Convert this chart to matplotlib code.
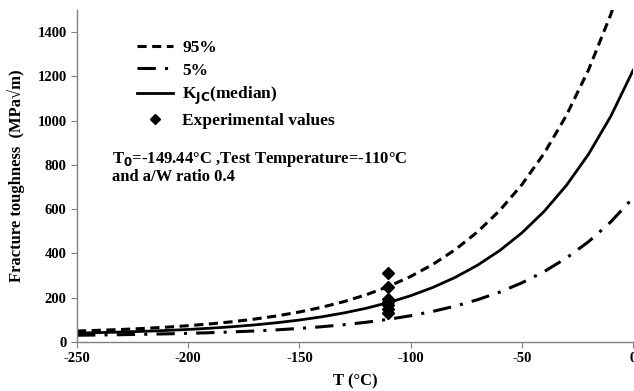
import numpy as np
import matplotlib
matplotlib.use('Agg')
import matplotlib.pyplot as plt

# temperatures (deg C) and fracture toughness values
temp = [-250, -240, -230, -220, -210, -200, -190, -180, -170, -160, -150, -140, -130,
        -120, -110, -100, -90, -80, -70, -60, -50, -40, -30, -20, -10, 0]
k_95 = [49.7, 52.9, 56.7, 61.3, 66.9, 73.7, 81.9, 91.8, 103.8, 118.2, 135.7, 156.9, 182.5,
        213.4, 250.8, 296.1, 350.8, 417.0, 497.0, 593.7, 710.7, 852.2, 1023.3, 1230.1, 1480.3, 1782.8]
k_05 = [30.6, 31.8, 33.1, 34.8, 36.8, 39.2, 42.1, 45.7, 50.0, 55.1, 61.4, 69.0, 78.2,
        89.2, 102.6, 118.8, 138.4, 162.1, 190.8, 225.4, 267.3, 318.0, 379.3, 453.3, 542.9, 651.3]
k_med = [40.4, 42.5, 45.1, 48.3, 52.1, 56.8, 62.4, 69.2, 77.4, 87.3, 99.3, 113.8, 131.3,
         152.5, 178.1, 209.1, 246.6, 291.9, 346.7, 412.9, 493.1, 590.0, 707.2, 848.9, 1020.2, 1227.4]

exp_temp = [-110, -110, -110, -110, -110, -110, -110]
exp_k = [312, 250, 195, 180, 165, 150, 130]

plt.rcParams['font.family'] = ['Liberation Serif', 'DejaVu Serif']
plt.rcParams['font.weight'] = 'bold'
plt.rcParams['axes.unicode_minus'] = False

fig = plt.figure(figsize=(6.34, 3.91), dpi=100)
ax = fig.add_axes([0.1215, 0.1253, 0.877, 0.849])

ax.plot(temp, k_95, color='black', lw=2.2, dashes=(3.0, 1.8), label='95%')
ax.plot(temp, k_05, color='black', lw=2.2, dashes=(6.0, 3.0, 1.0, 3.0), label='5%')
ax.plot(temp, k_med, color='black', lw=2.0, label='K$_{\\mathbf{JC}}$(median)')
ax.plot(exp_temp, exp_k, 'D', color='black', markersize=6, label='Experimental values')

ax.set_xlim(-250, 0)
ax.set_ylim(0, 1500)
ax.set_xticks(np.arange(-250, 1, 50))
ax.set_yticks(np.arange(0, 1401, 200))

for s in ['top', 'right']:
    ax.spines[s].set_visible(False)
for s in ['left', 'bottom']:
    ax.spines[s].set_color('#808080')
    ax.spines[s].set_linewidth(1.0)
ax.tick_params(axis='both', colors='#808080', labelcolor='black', labelsize=10.5, length=4)
for lab in ax.get_xticklabels() + ax.get_yticklabels():
    lab.set_fontweight('bold')

ax.set_xlabel('T (°C)', fontsize=12, fontweight='bold', labelpad=6)
ax.set_ylabel('Fracture toughness  (MPa\u221am)', fontsize=12, fontweight='bold', labelpad=9)

leg = ax.legend(loc='upper left', bbox_to_anchor=(137 / 634, 1 - 40 / 391),
                bbox_transform=fig.transFigure, frameon=False, borderpad=0, borderaxespad=0,
                prop={'size': 12.5, 'weight': 'bold'}, handlelength=2.1,
                labelspacing=0.36, handletextpad=0.5, markerscale=0.8)

ax.text(112 / 634, 1 - 150 / 391, 'T$_0$=-149.44°C ,Test Temperature=-110°C\nand a/W ratio 0.4',
        transform=fig.transFigure, fontsize=12, fontweight='bold', va='top',
        linespacing=1.0)

fig.savefig('out.png', dpi=100)
